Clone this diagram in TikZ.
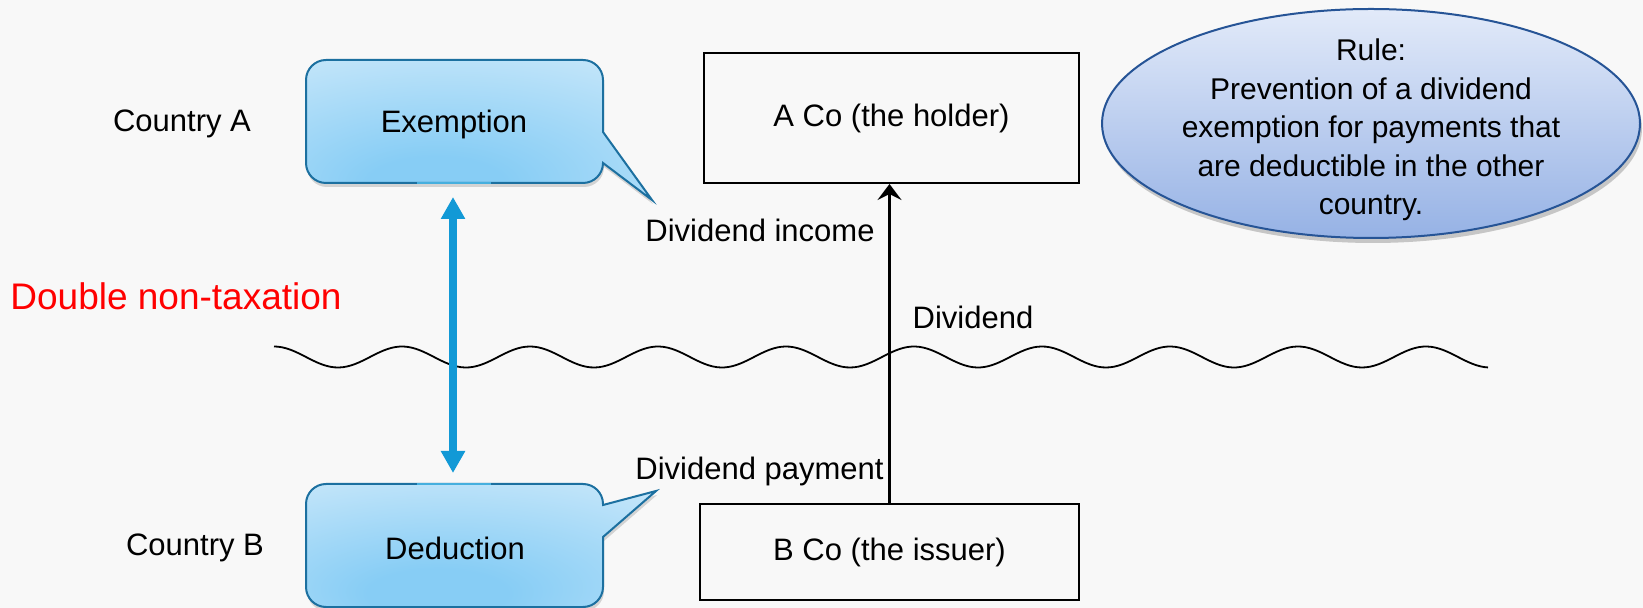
\documentclass[tikz,border=0pt]{standalone}
\usepackage{fontspec}
\setmainfont{Liberation Sans}
\usetikzlibrary{arrows.meta,shapes.geometric,shadows}

\definecolor{bgpaper}{RGB}{248,248,248}
\definecolor{calloutedge}{RGB}{28,112,160}
\definecolor{calloutseam}{RGB}{70,175,222}
\definecolor{calloutin}{RGB}{135,205,245}
\definecolor{calloutout}{RGB}{224,241,252}
\definecolor{ruletop}{RGB}{226,234,249}
\definecolor{rulebottom}{RGB}{150,178,229}
\definecolor{ruleedge}{RGB}{38,84,150}
\definecolor{linkblue}{RGB}{18,153,214}

\pgfdeclareradialshading{calloutglow}{\pgfpoint{-7bp}{-22bp}}{%
  color(0bp)=(calloutin); color(10bp)=(calloutin);
  color(58bp)=(calloutout); color(90bp)=(calloutout)}

\tikzset{
  lbl/.style={inner sep=0pt, font=\fontsize{15.5pt}{18pt}\selectfont},
  ruletext/.style={inner sep=0pt, align=center, font=\fontsize{15pt}{19.25pt}\selectfont},
  company/.style={draw=black, line width=1pt, inner sep=0pt,
    font=\fontsize{15.5pt}{18pt}\selectfont},
  callout/.style={draw=calloutedge, line width=1pt, shade, shading=calloutglow,
    drop shadow={fill=black, opacity=0.15, shadow xshift=0.5pt, shadow yshift=-2pt}},
  seam/.style={draw=calloutseam, line width=1pt},
  ruleshape/.style={ellipse, draw=ruleedge, line width=1pt, inner sep=0pt,
    top color=ruletop, bottom color=rulebottom,
    drop shadow={fill=black, opacity=0.2, shadow xshift=1pt, shadow yshift=-2.5pt}},
  wave/.style={draw=black, line width=0.9pt},
  dbl/.style={draw=linkblue, line width=3.8pt,
    {Triangle[width=11.5pt,length=11pt]}-{Triangle[width=11.5pt,length=11pt]}},
  flow/.style={draw=black, line width=1.5pt, -{Stealth[width=12pt,length=8pt,inset=3pt]}}
}

\begin{document}
\begin{tikzpicture}[x=0.5pt, y=-0.5pt]
  % page
  \fill[bgpaper] (0,0) rectangle (1643,608);
  \useasboundingbox (0,0) rectangle (1643,608);

  % border line between the two countries
  \draw[wave] plot[domain=274:1488, samples=300, smooth]
    (\x, {357-10.5*cos((\x-274)*2.8125)});

  % Country A speech bubble
  \path[callout] (306,122) [rounded corners=10pt] -- (306,60) -- (603,60)
    [sharp corners] -- (603,132) -- (652,200) -- (603,163)
    [rounded corners=10pt] -- (603,183) -- (306,183) -- cycle;
  \draw[seam] (417,183) -- (491,183);
  \coordinate (exB) at (453,183);

  % Country B speech bubble
  \path[callout] (306,545) [rounded corners=10pt] -- (306,484) -- (603,484)
    [sharp corners] -- (603,505) -- (656,491) -- (603,537)
    [rounded corners=10pt] -- (603,607) -- (306,607) -- cycle;
  \draw[seam] (417,484) -- (491,484);
  \coordinate (deT) at (453,484);

  \node[lbl] (exTxt) at (454,124) {Exemption};
  \node[lbl] (deTxt) at (455,548) {Deduction};

  \node[lbl] (cA) at (182,124) {Country A};
  \node[lbl] (cB) at (195,548) {Country B};

  \node[lbl, anchor=west, text=red, font=\fontsize{18.5pt}{22pt}\selectfont]
    (dnt) at (10,296) {Double non-taxation};

  % mismatch between the two treatments
  \draw[dbl, shorten <=7pt, shorten >=5.5pt] (exB) -- (deT);

  % the two companies
  \node[company, minimum width=187.5pt, minimum height=65pt] (aco) at (891.5,118)
    {A Co (the holder)};
  \node[company, minimum width=189.5pt, minimum height=48pt] (bco) at (889.5,552)
    {B Co (the issuer)};

  \draw[flow] (bco.north) -- (bco.north |- aco.south);

  \node[lbl, anchor=east] (divinc) at (875,230) {Dividend income};
  \node[lbl, anchor=east] (divpay) at (884,471) {Dividend payment};
  \node[lbl] (div) at (973,317) {Dividend};

  % the rule
  \node[ruleshape, minimum width=269pt, minimum height=114.5pt] (rule) at (1371,123.5) {};
  \node[ruletext] (ruleTxt) at (1371,130)
    {Rule:\\Prevention of a dividend\\exemption for payments that\\are deductible in the other\\country.};
\end{tikzpicture}
\end{document}
